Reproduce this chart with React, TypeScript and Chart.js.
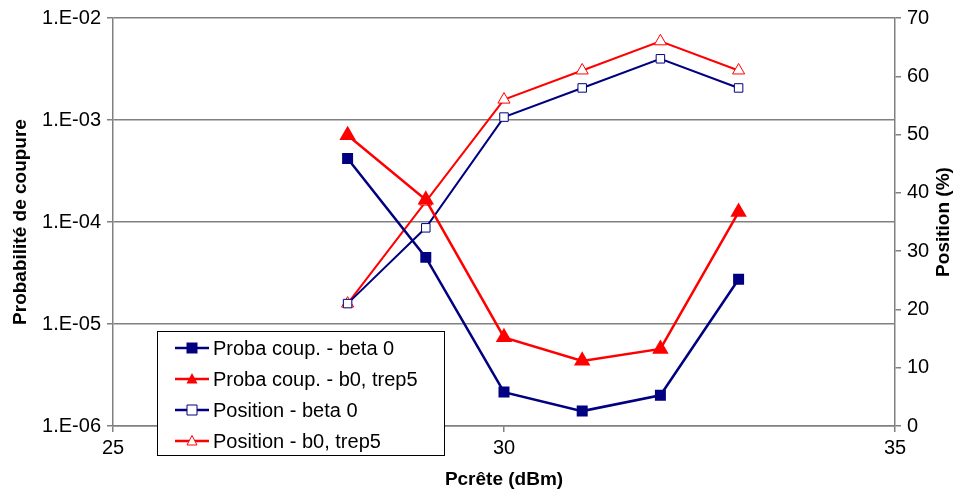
import React, { useEffect, useRef } from "react";
import { Chart, registerables } from "chart.js";

Chart.register(...registerables);

const xValues = [28, 29, 30, 31, 32, 33];
const probaBeta0 = [4.2e-4, 4.5e-5, 2.15e-6, 1.4e-6, 2.0e-6, 2.75e-5];
const probaB0Trep5 = [7.1e-4, 1.65e-4, 7.4e-6, 4.35e-6, 5.7e-6, 1.25e-4];
const positionBeta0 = [21, 34, 53, 58, 63, 58];
const positionB0Trep5 = [21, 38.5, 56, 61, 66, 61];
const logTicks = [1e-6, 1e-5, 1e-4, 1e-3, 1e-2];
const seriesLabels = [
  "Proba coup. - beta 0",
  "Proba coup. - b0, trep5",
  "Position - beta 0",
  "Position - b0, trep5",
];
const rightTitle = "Position (%)";

const NAVY = "#000080";
const RED = "#ff0000";
const FONT = "'Liberation Sans', Arial, sans-serif";

const pts = (ys: number[]) => xValues.map((x, i) => ({ x, y: ys[i] }));

function drawMarker(ctx: CanvasRenderingContext2D, style: string, x: number, y: number, r: number, color: string, filled: boolean) {
  ctx.save();
  ctx.beginPath();
  if (style === "rect") {
    ctx.rect(x - r, y - r, 2 * r, 2 * r);
  } else {
    ctx.moveTo(x, y - r * 1.1);
    ctx.lineTo(x + r, y + r * 0.8);
    ctx.lineTo(x - r, y + r * 0.8);
    ctx.closePath();
  }
  if (filled) {
    ctx.fillStyle = color;
    ctx.fill();
  } else {
    ctx.fillStyle = "#ffffff";
    ctx.fill();
    ctx.lineWidth = 1;
    ctx.strokeStyle = color;
    ctx.stroke();
  }
  ctx.restore();
}

const legendPlugin = {
  id: "boxLegend",
  afterDraw(chart: any) {
    const ctx: CanvasRenderingContext2D = chart.ctx;
    const bx = 157, by = 331, bw = 287, bh = 124;
    ctx.save();
    ctx.fillStyle = "#ffffff";
    ctx.fillRect(bx, by, bw, bh);
    ctx.strokeStyle = "#000000";
    ctx.lineWidth = 1;
    ctx.strokeRect(bx + 0.5, by + 0.5, bw, bh);
    ctx.font = `20px ${FONT}`;
    ctx.textBaseline = "middle";
    chart.data.datasets.forEach((ds: any, i: number) => {
      const y = by + 17 + i * 31;
      const x0 = bx + 18;
      ctx.strokeStyle = ds.borderColor;
      ctx.lineWidth = 2.5;
      ctx.beginPath();
      ctx.moveTo(x0, y);
      ctx.lineTo(x0 + 34, y);
      ctx.stroke();
      const filled = ds.pointBackgroundColor !== "#ffffff";
      drawMarker(ctx, ds.pointStyle, x0 + 17, y, filled ? 5.5 : 5, ds.borderColor, filled);
      ctx.fillStyle = "#000000";
      ctx.fillText(ds.label, x0 + 38, y + 1);
    });
    // right axis title, reading bottom-to-top
    const area = chart.chartArea;
    ctx.translate(944, (area.top + area.bottom) / 2);
    ctx.rotate(-Math.PI / 2);
    ctx.font = `bold 19px ${FONT}`;
    ctx.textAlign = "center";
    ctx.fillStyle = "#000000";
    ctx.fillText(rightTitle, 0, 0);
    ctx.restore();
  },
};

export default function App() {
  const ref = useRef<HTMLCanvasElement | null>(null);
  useEffect(() => {
    document.body.style.margin = "0";
    const chart = new Chart(ref.current!, {
      type: "line",
      data: {
        datasets: [
          {
            label: seriesLabels[0],
            data: pts(probaBeta0),
            yAxisID: "y",
            borderColor: NAVY,
            backgroundColor: NAVY,
            pointBackgroundColor: NAVY,
            pointBorderColor: NAVY,
            pointStyle: "rect",
            pointRadius: 6,
            borderWidth: 2.5,
          },
          {
            label: seriesLabels[1],
            data: pts(probaB0Trep5),
            yAxisID: "y",
            borderColor: RED,
            backgroundColor: RED,
            pointBackgroundColor: RED,
            pointBorderColor: RED,
            pointStyle: "triangle",
            pointRadius: 7,
            borderWidth: 2.5,
          },
          {
            label: seriesLabels[2],
            data: pts(positionBeta0),
            yAxisID: "y1",
            borderColor: NAVY,
            backgroundColor: NAVY,
            pointBackgroundColor: "#ffffff",
            pointBorderColor: NAVY,
            pointBorderWidth: 1,
            pointStyle: "rect",
            pointRadius: 6,
            borderWidth: 2,
          },
          {
            label: seriesLabels[3],
            data: pts(positionB0Trep5),
            yAxisID: "y1",
            borderColor: RED,
            backgroundColor: RED,
            pointBackgroundColor: "#ffffff",
            pointBorderColor: RED,
            pointBorderWidth: 1,
            pointStyle: "triangle",
            pointRadius: 7,
            borderWidth: 2,
          },
        ],
      },
      options: {
        animation: false,
        responsive: true,
        maintainAspectRatio: false,
        layout: { padding: { top: 9, right: 0, left: 0, bottom: 0 } },
        plugins: { legend: { display: false }, tooltip: { enabled: false } },
        scales: {
          x: {
            type: "linear",
            min: 25,
            max: 35,
            ticks: { stepSize: 5, color: "#000", font: { family: FONT, size: 20 }, padding: 4 },
            grid: { drawOnChartArea: false, color: "#808080", tickLength: 6, lineWidth: 1.5 },
            border: { color: "#808080", width: 1.5 },
            title: { display: true, text: "Pcrête (dBm)", color: "#000", font: { family: FONT, size: 19, weight: "bold" }, padding: { top: 2 } },
            afterFit: (s: any) => { s.height = 69; },
          },
          y: {
            type: "logarithmic",
            position: "left",
            min: 1e-6,
            max: 1e-2,
            afterBuildTicks: (s: any) => { s.ticks = logTicks.map((v) => ({ value: v, major: true })); },
            ticks: {
              color: "#000",
              font: { family: FONT, size: 20 },
              padding: 6,
              callback: (v: any) => {
                const e = Math.round(Math.log10(Number(v)));
                const a = Math.abs(e);
                return "1.E" + (e < 0 ? "-" : "+") + (a < 10 ? "0" + a : String(a));
              },
            },
            grid: { color: "#808080", lineWidth: 1.5, tickLength: 6 },
            border: { color: "#808080", width: 1.5 },
            title: { display: true, text: "Probabilité de coupure", color: "#000", font: { family: FONT, size: 19, weight: "bold" }, padding: { top: 9, bottom: 0 } },
            afterFit: (s: any) => { s.width = 113; },
          },
          y1: {
            type: "linear",
            position: "right",
            min: 0,
            max: 70,
            ticks: { stepSize: 10, color: "#000", font: { family: FONT, size: 20 }, padding: 6 },
            grid: { drawOnChartArea: false, color: "#808080", lineWidth: 1.5, tickLength: 6 },
            border: { color: "#808080", width: 1.5 },
            afterFit: (s: any) => { s.width = 60; },
          },
        },
      } as any,
      plugins: [legendPlugin],
    });
    return () => chart.destroy();
  }, []);
  return (
    <div style={{ width: 955, height: 495, position: "relative" }}>
      <canvas ref={ref} />
    </div>
  );
}
